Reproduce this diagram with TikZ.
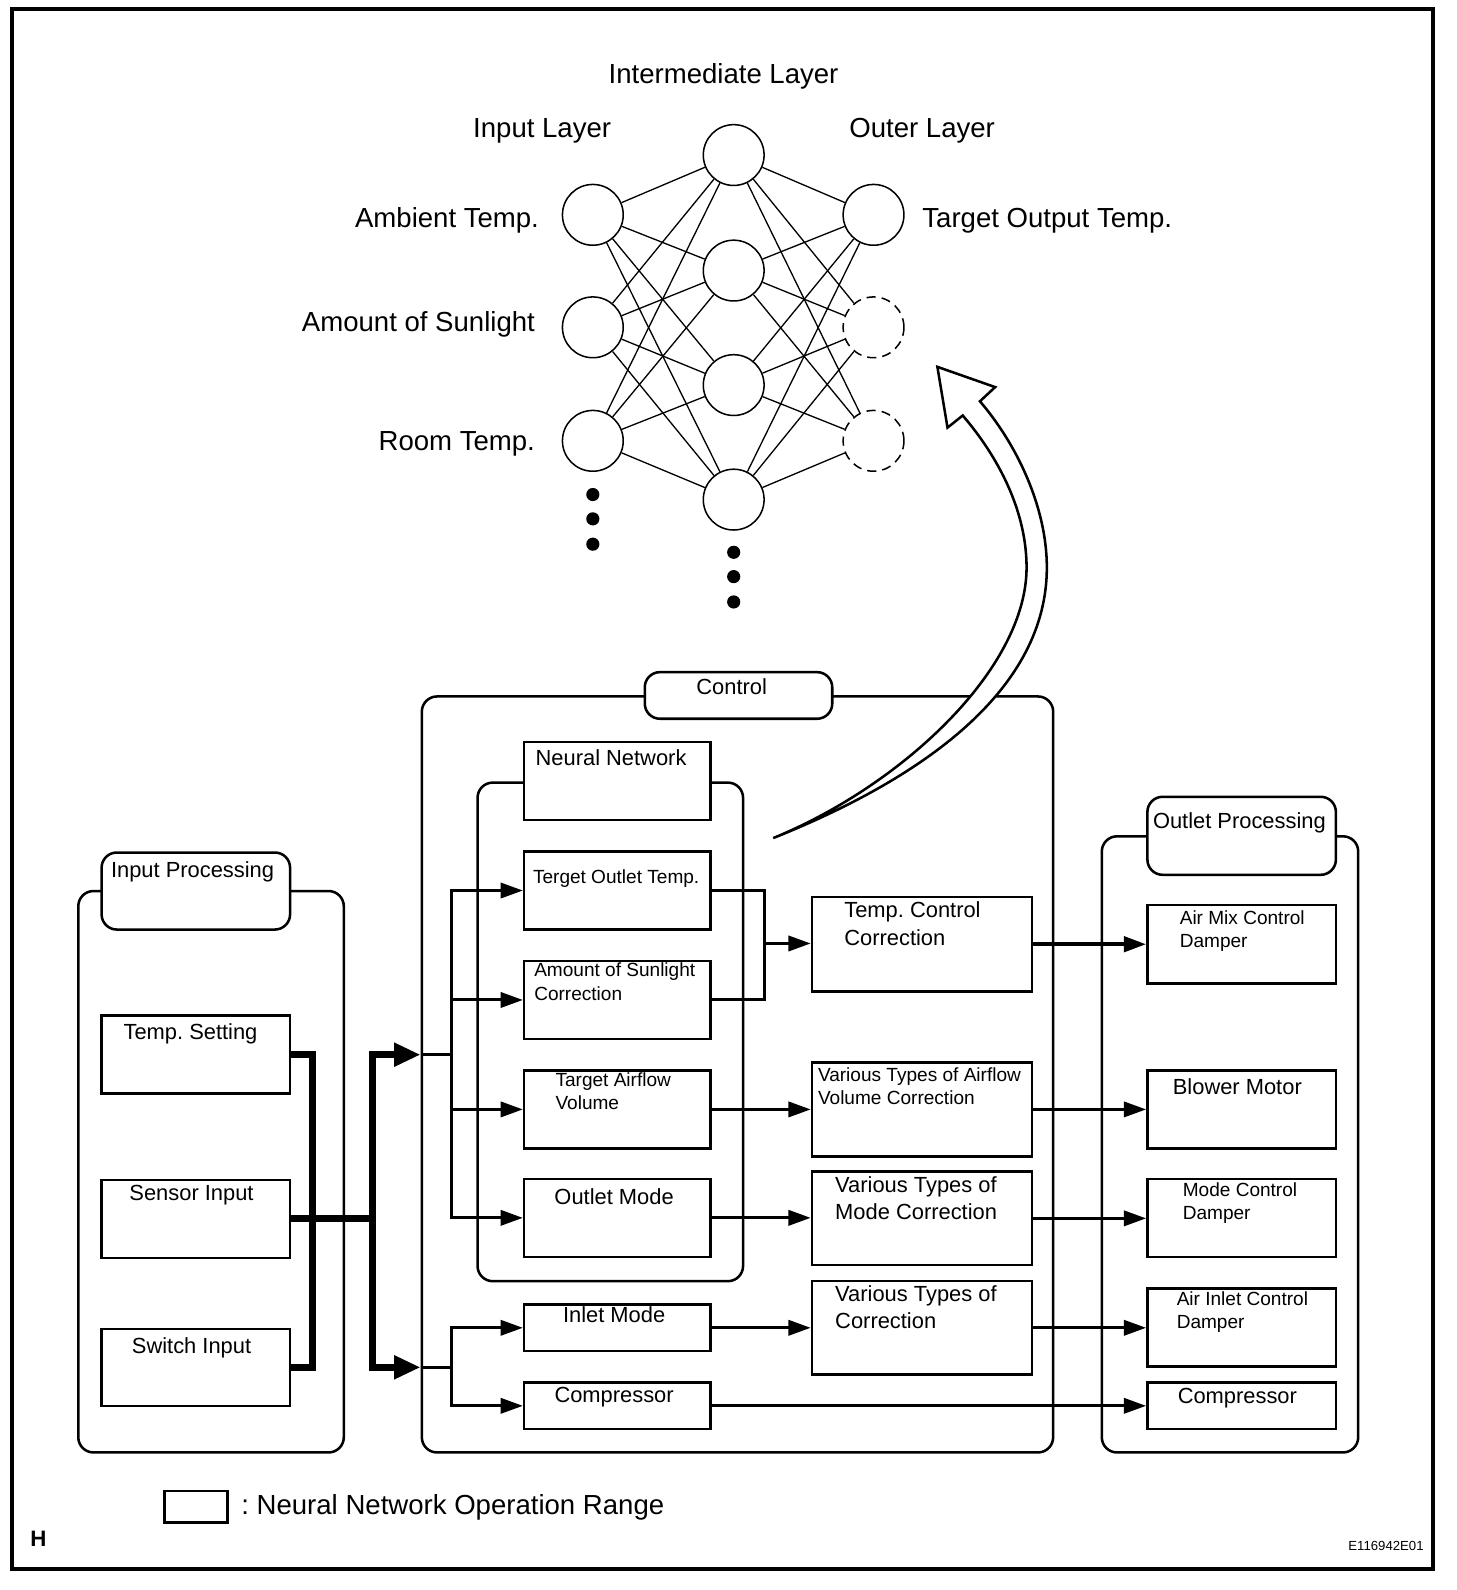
\documentclass[tikz,border=0pt]{standalone}
\usepackage{fontspec}
\setmainfont{Liberation Sans}
\usetikzlibrary{arrows.meta}
\frenchspacing
\begin{document}
\begin{tikzpicture}[x=1pt,y=-1pt]
    \tikzstyle{every node}+=[inner sep=0pt]
    \tikzstyle{normtxt}=[font=\fontsize{21.6}{27}\selectfont]
    \tikzstyle{smalltxt}=[font=\fontsize{18.8}{23}\selectfont]
    \tikzstyle{bigtxt}=[font=\fontsize{27.2}{32}\selectfont]
    \tikzstyle{box}=[draw, line width=2.5pt, fill=white, anchor=north west]
    \tikzstyle{grp}=[box, rounded corners=15pt]
    \tikzstyle{neuron}=[draw, circle, line width=1.5pt, minimum size=60pt]
    \tikzstyle{ghost}=[neuron, dash pattern=on 9pt off 6pt]
    \tikzstyle{syn}=[line width=1.3pt]
    \tikzstyle{conn}=[line width=3pt]
    \tikzstyle{arr}=[conn, -{Triangle[length=22pt,width=15pt]}]
    \tikzstyle{bus}=[line width=7pt]
    \tikzstyle{busarr}=[bus, -{Triangle[length=26pt,width=22pt]}]
    \useasboundingbox (0,0) rectangle (1437,1569);
    \draw [line width=3.5pt] (12,9) rectangle (1414,1548);
    \node [bigtxt, anchor=base] (midlay) at (714,82) {Intermediate Layer};
    \node [bigtxt, anchor=base] (inlay) at (535,136) {Input Layer};
    \node [bigtxt, anchor=base] (outlay) at (910,136) {Outer Layer};
    \node [neuron] (i1) at (585,212) {};
    \node [neuron] (i2) at (585,323) {};
    \node [neuron] (i3) at (585,435) {};
    \node [neuron] (h1) at (724,153) {};
    \node [neuron] (h2) at (724,267) {};
    \node [neuron] (h3) at (724,380) {};
    \node [neuron] (h4) at (724,493) {};
    \node [neuron] (o1) at (862,212) {};
    \node [ghost] (o2) at (862,323) {};
    \node [ghost] (o3) at (862,435) {};
    \node [bigtxt, anchor=base east] (ambt) at (532,224) {Ambient Temp.};
    \node [bigtxt, anchor=base east] (sunt) at (528,327) {Amount of Sunlight};
    \node [bigtxt, anchor=base east] (roomt) at (528,445) {Room Temp.};
    \node [bigtxt, anchor=base west] (targt) at (910,224) {Target Output Temp.};
    \draw [syn] (i1) -- (h1) (i1) -- (h2) (i1) -- (h3) (i1) -- (h4);
    \draw [syn] (i2) -- (h1) (i2) -- (h2) (i2) -- (h3) (i2) -- (h4);
    \draw [syn] (i3) -- (h1) (i3) -- (h2) (i3) -- (h3) (i3) -- (h4);
    \draw [syn] (h1) -- (o1) (h1) -- (o2) (h1) -- (o3);
    \draw [syn] (h2) -- (o1) (h2) -- (o2) (h2) -- (o3);
    \draw [syn] (h3) -- (o1) (h3) -- (o2) (h3) -- (o3);
    \draw [syn] (h4) -- (o1) (h4) -- (o2) (h4) -- (o3);
    \fill (585,488) circle (6.5pt);
    \fill (585,512) circle (6.5pt);
    \fill (585,537) circle (6.5pt);
    \fill (724,545) circle (6.5pt);
    \fill (724,569) circle (6.5pt);
    \fill (724,594) circle (6.5pt);
    \node [grp, minimum width=262pt, minimum height=554pt] (inpg) at (76,878) {};
    \node [grp, minimum width=186pt, minimum height=76pt] (inpl) at (99,840) {};
    \node [normtxt, anchor=base] (inplt) at (190,866) {Input Processing};
    \node [box, minimum width=186pt, minimum height=77pt] (tset) at (99,1001) {};
    \node [normtxt, anchor=base] (tsett) at (188,1026) {Temp. Setting};
    \node [box, minimum width=186pt, minimum height=77pt] (sens) at (99,1163) {};
    \node [normtxt, anchor=base] (senst) at (189,1185) {Sensor Input};
    \node [box, minimum width=186pt, minimum height=76pt] (swin) at (99,1310) {};
    \node [normtxt, anchor=base] (swint) at (189,1336) {Switch Input};
    \node [grp, minimum width=623pt, minimum height=746pt] (ctrl) at (415,686) {};
    \node [grp, minimum width=185pt, minimum height=46pt] (ctrll) at (635,662) {};
    \node [normtxt, anchor=base] (ctrlt) at (722,685) {Control};
    \node [grp, minimum width=262pt, minimum height=492pt] (nn) at (470,771) {};
    \node [box, minimum width=184pt, minimum height=77pt] (nnl) at (516,731) {};
    \node [normtxt, anchor=base] (nnlt) at (603,755) {Neural Network};
    \node [box, minimum width=184pt, minimum height=77pt] (tout) at (516,839) {};
    \node [smalltxt, anchor=base] (toutt) at (608,872) {Terget Outlet Temp.};
    \node [box, minimum width=184pt, minimum height=77pt] (sun) at (516,947) {};
    \node [smalltxt, anchor=north west, align=left] (sunt2) at (527,950) {Amount of Sunlight\\Correction};
    \node [box, minimum width=184pt, minimum height=77pt] (air) at (516,1055) {};
    \node [smalltxt, anchor=north west, align=left] (airt) at (548,1058) {Target Airflow\\Volume};
    \node [box, minimum width=184pt, minimum height=77pt] (omode) at (516,1162) {};
    \node [normtxt, anchor=base] (omodet) at (606,1189) {Outlet Mode};
    \node [box, minimum width=184pt, minimum height=46pt] (imode) at (516,1286) {};
    \node [normtxt, anchor=base] (imodet) at (606,1305) {Inlet Mode};
    \node [box, minimum width=184pt, minimum height=46pt] (comp) at (516,1363) {};
    \node [normtxt, anchor=base] (compt) at (606,1384) {Compressor};
    \node [box, minimum width=217pt, minimum height=93pt] (tcc) at (800,884) {};
    \node [normtxt, anchor=north west, align=left] (tcct) at (833,890) {Temp. Control\\Correction};
    \node [box, minimum width=217pt, minimum height=93pt] (acor) at (800,1047) {};
    \node [smalltxt, anchor=north west, align=left] (acort) at (807,1053) {Various Types of Airflow\\Volume Correction};
    \node [box, minimum width=217pt, minimum height=92pt] (mcor) at (800,1155) {};
    \node [normtxt, anchor=north west, align=left] (mcort) at (824,1161) {Various Types of\\Mode Correction};
    \node [box, minimum width=217pt, minimum height=92pt] (vcor) at (800,1263) {};
    \node [normtxt, anchor=north west, align=left] (vcort) at (824,1268) {Various Types of\\Correction};
    \node [grp, minimum width=253pt, minimum height=608pt] (outg) at (1086,824) {};
    \node [grp, minimum width=186pt, minimum height=77pt] (outl) at (1131,785) {};
    \node [normtxt, anchor=base] (outlt) at (1223,818) {Outlet Processing};
    \node [box, minimum width=186pt, minimum height=77pt] (amix) at (1131,892) {};
    \node [smalltxt, anchor=north west, align=left] (amixt) at (1164,898) {Air Mix Control\\Damper};
    \node [box, minimum width=186pt, minimum height=77pt] (blow) at (1131,1055) {};
    \node [normtxt, anchor=base] (blowt) at (1221,1080) {Blower Motor};
    \node [box, minimum width=186pt, minimum height=77pt] (mdam) at (1131,1162) {};
    \node [smalltxt, anchor=north west, align=left] (mdamt) at (1167,1167) {Mode Control\\Damper};
    \node [box, minimum width=186pt, minimum height=77pt] (idam) at (1131,1270) {};
    \node [smalltxt, anchor=north west, align=left] (idamt) at (1161,1274) {Air Inlet Control\\Damper};
    \node [box, minimum width=186pt, minimum height=46pt] (ocomp) at (1131,1363) {};
    \node [normtxt, anchor=base] (ocompt) at (1221,1385) {Compressor};
    \draw [line width=2.5pt, fill=white] (763,827) .. controls (913,767) and (1033,680) .. (1033,560) .. controls (1033,500) and (1003,438) .. (967,396) -- (982,382) -- (925,362) -- (935,422) -- (950,410) .. controls (986,452) and (1013,505) .. (1013,560) .. controls (1013,660) and (890,775) .. (763,827) -- cycle;
    \coordinate (jin) at (308,1201);
    \coordinate (jbus) at (368,1201);
    \coordinate (jctl) at (446,1201);
    \coordinate (jtc) at (754,931);
    \draw [bus] (tset.east) -| (jin) |- (swin.east);
    \draw [bus] (sens.east) -- (sens.east -| jbus);
    \draw [busarr] (sens.east -| jbus) |- (tset.east -| ctrl.west);
    \draw [busarr] (sens.east -| jbus) |- (swin.east -| ctrl.west);
    \draw [conn] (tset.east -| ctrl.west) -- (tset.east -| jctl);
    \draw [arr] (tset.east -| jctl) |- (tout.west);
    \draw [arr] (tset.east -| jctl) |- (omode.west);
    \draw [arr] (sun.west -| jctl) -- (sun.west);
    \draw [arr] (air.west -| jctl) -- (air.west);
    \draw [conn] (swin.east -| ctrl.west) -- (swin.east -| jctl);
    \draw [arr] (swin.east -| jctl) |- (imode.west);
    \draw [arr] (swin.east -| jctl) |- (comp.west);
    \draw [conn] (tout.east) -| (jtc) |- (sun.east);
    \draw [arr] (jtc) -- (jtc -| tcc.west);
    \draw [arr] (air.east) -- (air.east -| acor.west);
    \draw [arr] (omode.east) -- (omode.east -| mcor.west);
    \draw [arr] (imode.east) -- (imode.east -| vcor.west);
    \draw [arr] (comp.east) -- (comp.east -| ocomp.west);
    \draw [arr, line width=4pt] (tcc.east) -- (tcc.east -| amix.west);
    \draw [arr] (acor.east) -- (acor.east -| blow.west);
    \draw [arr] (mcor.east) -- (mcor.east -| mdam.west);
    \draw [arr] (vcor.east) -- (vcor.east -| idam.west);
    \node [box, minimum width=62pt, minimum height=31pt] (legbox) at (161,1470) {};
    \node [bigtxt, anchor=base west] (legt) at (238,1494) {: Neural Network Operation Range};
    \node [font=\fontsize{22}{26}\selectfont\bfseries, anchor=base] (hmark) at (38,1526) {H};
    \node [font=\fontsize{13}{15}\selectfont, anchor=base east] (code) at (1405,1530) {E116942E01};
\end{tikzpicture}
\end{document}
